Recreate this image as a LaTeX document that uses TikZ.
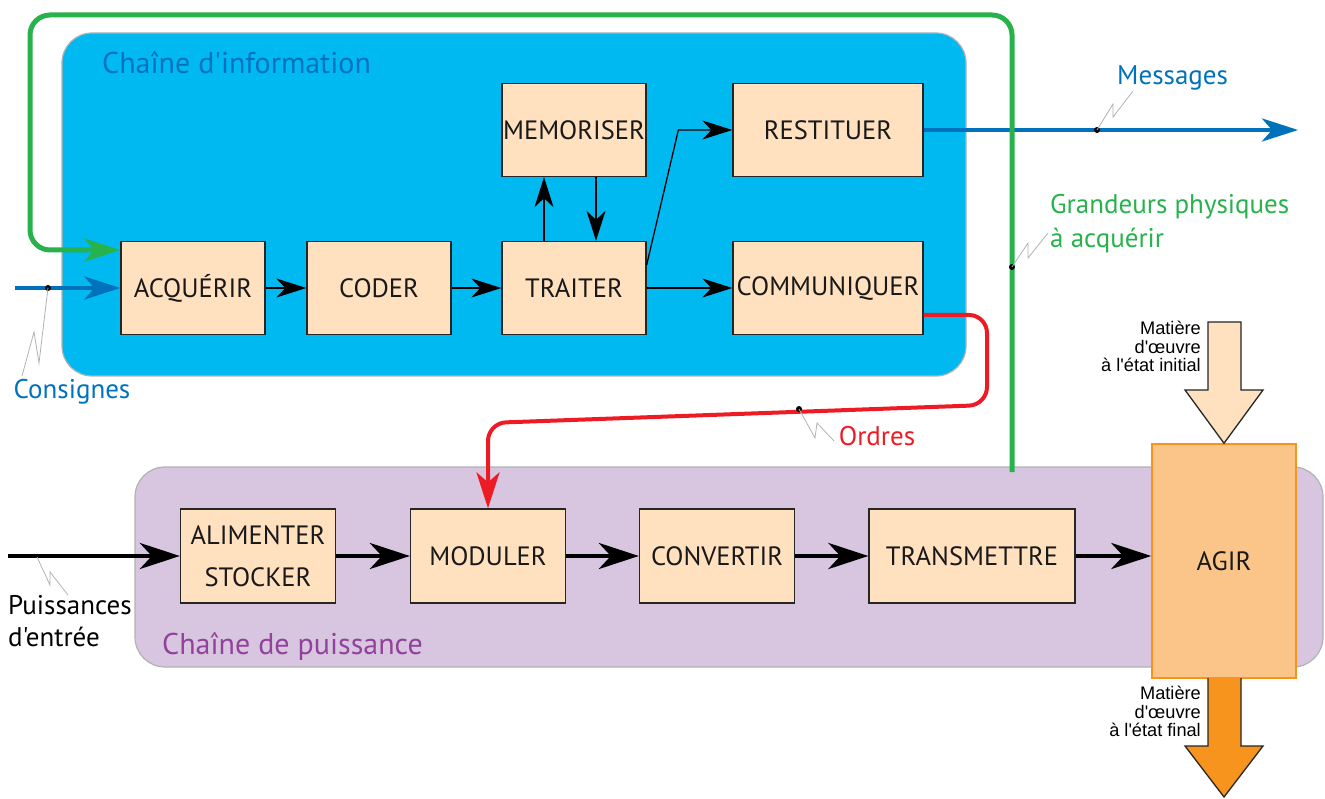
\documentclass[tikz,border=0pt]{standalone}
\usepackage{fontspec}
\newfontfamily\mysans{PT Sans}
\newfontfamily\arialfont{Liberation Sans}
\usetikzlibrary{arrows.meta,positioning}

\definecolor{infofill}{RGB}{0,185,241}
\definecolor{pwrfill}{RGB}{216,198,225}
\definecolor{peach}{RGB}{255,224,191}
\definecolor{agirfill}{RGB}{251,197,138}
\definecolor{agirline}{RGB}{247,148,29}
\definecolor{msgblue}{RGB}{0,114,188}
\definecolor{grn}{RGB}{40,178,76}
\definecolor{ordred}{RGB}{237,28,36}
\definecolor{pwrtext}{RGB}{146,66,154}

\tikzset{
  fct/.style={draw=black!85, line width=1.3pt, fill=peach, minimum width=144pt,
    minimum height=93pt, inner sep=0pt, align=center,
    font=\mysans\fontsize{26.5}{42}\selectfont, text=black!90},
  wide/.style={minimum width=190pt},
  pwr/.style={fct, minimum width=155pt, minimum height=94pt},
  agirbox/.style={fct, fill=agirfill, draw=agirline, line width=1.5pt,
    minimum height=234pt},
  infoarrow/.style={-{Stealth[length=30pt,width=19pt,inset=9pt]}, line width=1.3pt},
  pwrarrow/.style={-{Stealth[length=40pt,width=26pt,inset=12pt]}, line width=4.5pt},
  flowarrow/.style={-{Stealth[length=36pt,width=23pt,inset=10pt]}, line width=4.5pt},
  chain/.style={draw=black!30, line width=1.2pt, rounded corners=30pt},
  lbl/.style={font=\mysans\fontsize{27}{34}\selectfont, inner sep=0pt},
  title/.style={font=\mysans\fontsize{30}{34}\selectfont, inner sep=0pt, anchor=west},
  small/.style={font=\arialfont\fontsize{18.2}{18.5}\selectfont, inner sep=0pt,
    align=right, anchor=north east},
  zig/.style={draw=black!30, line width=0.8pt},
  dot/.style={circle, fill=black, inner sep=0pt, minimum size=6pt},
  matter/.style={draw=black!85, line width=1.3pt},
}

\begin{document}
\begin{tikzpicture}[x=1pt,y=-1pt,on grid]
\useasboundingbox (0,0) rectangle (1325,799);

% the two chains
\draw[chain, fill=infofill] (62,33) rectangle (966,376);
\draw[chain, fill=pwrfill] (135,467) rectangle (1323,667);
\node[title, text=msgblue] (tinfo) at (102,63) {Chaîne d'information};
\node[title, text=pwrtext] (tpwr) at (162,647) {Chaîne de puissance};

% information chain
\node[fct] (acq) at (193,288) {ACQUÉRIR};
\node[fct] (cod) [right=186pt of acq] {CODER};
\node[fct] (trt) [right=195pt of cod] {TRAITER};
\node[fct] (mem) [above=158pt of trt] {MEMORISER};
\node[fct,wide] (com) [right=254pt of trt] {COMMUNIQUER};
\node[fct,wide] (res) [above=158pt of com] {RESTITUER};

% power chain
\node[pwr] (ali) at (258,556) {ALIMENTER\\STOCKER};
\node[pwr] (mod) [right=230pt of ali] {MODULER};
\node[pwr] (cnv) [right=229pt of mod] {CONVERTIR};
\node[pwr, minimum width=206pt] (trm) [right=255pt of cnv] {TRANSMETTRE};
\node[agirbox] (agir) at (1224,561) {AGIR};

\path[infoarrow]
  (acq) edge (cod)
  (cod) edge (trt)
  (trt) edge (com);
\draw[infoarrow] ([xshift=-30pt]trt.north) -- ([xshift=-30pt]mem.south);
\draw[infoarrow] ([xshift=22pt]mem.south) -- ([xshift=22pt]trt.north);
\draw[infoarrow] ([yshift=23pt]trt.east) -- ([xshift=-54pt]res.west) -- (res.west);

\coordinate (pin) at (8,556);
\path[pwrarrow]
  (pin) edge (ali)
  (ali) edge (mod)
  (mod) edge (cnv)
  (cnv) edge (trm)
  (trm) edge (trm.east -| agir.west);

% flows
\coordinate (cin) at (15,288);
\coordinate (mout) at (1298,130);
\coordinate (gin) at (1012,472);
\draw[flowarrow, msgblue] (cin) -- (acq.west);
\draw[flowarrow, msgblue] (res.east) -- (mout);
\draw[flowarrow, grn, line width=5pt, rounded corners=20pt]
  (gin) -- (1012,15) -- (30,15) -- (30,250) -- ([yshift=38pt]acq.west);
\draw[flowarrow, ordred, line width=4pt, rounded corners=18pt]
  ([yshift=-27pt]com.east) -- (987,315) -- (987,405) -- (488,423) -- (mod.north);

% matter in and out
\draw[matter, fill=peach] (agir.north) -- (1185,390) -- (1208,390) -- (1208,322)
  -- (1241,322) -- (1241,390) -- (1263,390) -- cycle;
\draw[matter, fill=agirline] (1208,678) -- (1208,746) -- (1185,746) -- (1224,797)
  -- (1263,746) -- (1241,746) -- (1241,678);
\node[small] (min) at (1201,321) {Matière\\d'œuvre\\à l'état initial};
\node[small] (mfin) at (1201,686) {Matière\\d'œuvre\\à l'état final};

% labels
\node[dot] (dmsg) at (1097,130) {};
\draw[zig] (dmsg.center) -- ++(16,-26) -- ++(0,13) -- ++(20,-26);
\node[lbl, text=msgblue, anchor=west] (lmsg) at (1117,78) {Messages};

\node[dot] (dgr) at (1012,267) {};
\draw[zig] (dgr.center) -- ++(16,-24) -- ++(0,15) -- ++(20,-25);
\node[lbl, text=grn, anchor=north west, align=left] (lgr) at (1050,194)
  {Grandeurs physiques\\à acquérir};

\node[dot] (dcons) at (48,288) {};
\draw[zig] (dcons.center) -- ++(-9,75) -- ++(-5,-31) -- ++(-12,44);
\node[lbl, text=msgblue] (lcons) at (72,392) {Consignes};

\node[dot] (dord) at (799,409) {};
\draw[zig] (dord.center) -- ++(16,29) -- ++(2,-15) -- ++(17,18);
\node[lbl, text=ordred] (lord) at (877,436) {Ordres};

\draw[zig] (37,557) -- ++(13,28) -- ++(0,-13) -- ++(18,23);
\node[lbl, anchor=north west, align=left, font=\mysans\fontsize{27}{32}\selectfont]
  (lpin) at (8,595) {Puissances\\d'entrée};
\end{tikzpicture}
\end{document}
